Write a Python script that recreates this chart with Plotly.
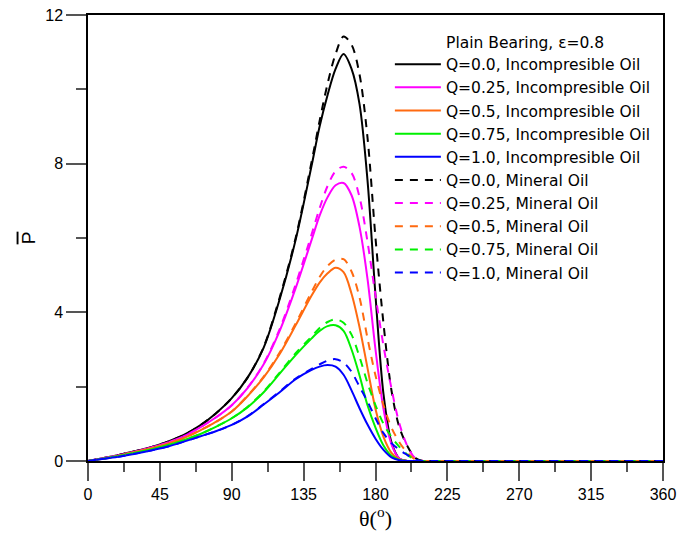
import plotly.graph_objects as go

# angle grid (degrees)
theta = [0, 10, 20, 30, 40, 50, 60, 70, 80, 90, 100, 110, 120, 130, 140, 145, 150,
         155, 160, 165, 170, 175, 180, 185, 190, 195, 200, 205, 210, 215, 220, 360]

# Incompressible oil (solid)
p_q00_inc = [0, 0.08, 0.17, 0.27, 0.38, 0.52, 0.70, 0.95, 1.28, 1.69, 2.25, 3.05, 4.35, 5.95, 7.95, 9.0, 9.85,
             10.55, 10.95, 10.55, 9.6, 7.55, 4.45, 1.8, 0.5, 0.06, 0, 0, 0, 0, 0, 0]
p_q25_inc = [0, 0.08, 0.16, 0.26, 0.37, 0.50, 0.67, 0.90, 1.17, 1.50, 1.97, 2.6, 3.5, 4.65, 5.95, 6.6, 7.1,
             7.42, 7.48, 7.15, 6.3, 4.9, 3.0, 1.4, 0.45, 0.07, 0, 0, 0, 0, 0, 0]
p_q50_inc = [0, 0.07, 0.15, 0.25, 0.35, 0.47, 0.62, 0.82, 1.05, 1.33, 1.75, 2.25, 2.88, 3.65, 4.45, 4.8, 5.05,
             5.2, 5.08, 4.5, 3.6, 2.5, 1.4, 0.65, 0.22, 0.04, 0, 0, 0, 0, 0, 0]
p_q75_inc = [0, 0.07, 0.14, 0.23, 0.32, 0.43, 0.56, 0.72, 0.92, 1.15, 1.45, 1.85, 2.35, 2.85, 3.3, 3.5, 3.63,
             3.65, 3.5, 3.0, 2.3, 1.5, 0.9, 0.42, 0.14, 0.03, 0, 0, 0, 0, 0, 0]
p_q100_inc = [0, 0.06, 0.12, 0.20, 0.29, 0.39, 0.52, 0.66, 0.80, 0.97, 1.2, 1.52, 1.85, 2.2, 2.45, 2.54, 2.58,
              2.54, 2.32, 1.9, 1.42, 0.98, 0.6, 0.3, 0.1, 0.02, 0, 0, 0, 0, 0, 0]

# Mineral oil (dashed)
p_q00_min = [0, 0.08, 0.17, 0.27, 0.38, 0.52, 0.70, 0.95, 1.28, 1.69, 2.25, 3.07, 4.4, 6.0, 8.05, 9.15, 10.15,
             10.95, 11.42, 11.2, 10.4, 8.7, 6.0, 3.7, 1.9, 0.9, 0.4, 0.08, 0, 0, 0, 0]
p_q25_min = [0, 0.08, 0.16, 0.26, 0.37, 0.50, 0.67, 0.90, 1.17, 1.50, 1.98, 2.62, 3.55, 4.75, 6.1, 6.8, 7.4,
             7.8, 7.92, 7.75, 7.1, 5.9, 4.45, 3.1, 1.95, 1.0, 0.4, 0.07, 0, 0, 0, 0]
p_q50_min = [0, 0.07, 0.15, 0.25, 0.35, 0.47, 0.62, 0.82, 1.05, 1.33, 1.76, 2.27, 2.92, 3.7, 4.55, 4.95, 5.25,
             5.42, 5.43, 5.1, 4.4, 3.3, 2.3, 1.5, 0.9, 0.5, 0.22, 0.04, 0, 0, 0, 0]
p_q75_min = [0, 0.07, 0.14, 0.23, 0.32, 0.43, 0.56, 0.72, 0.92, 1.15, 1.46, 1.87, 2.38, 2.9, 3.35, 3.58, 3.74,
             3.81, 3.72, 3.4, 2.8, 2.1, 1.5, 1.0, 0.65, 0.38, 0.17, 0.03, 0, 0, 0, 0]
p_q100_min = [0, 0.06, 0.12, 0.20, 0.29, 0.39, 0.52, 0.66, 0.80, 0.97, 1.21, 1.53, 1.87, 2.22, 2.48, 2.6, 2.7,
              2.74, 2.65, 2.4, 2.0, 1.6, 1.15, 0.75, 0.48, 0.3, 0.16, 0.03, 0, 0, 0, 0]

series_names = ["Q=0.0, Incompresible Oil", "Q=0.25, Incompresible Oil", "Q=0.5, Incompresible Oil",
                "Q=0.75, Incompresible Oil", "Q=1.0, Incompresible Oil",
                "Q=0.0, Mineral Oil", "Q=0.25, Mineral Oil", "Q=0.5, Mineral Oil",
                "Q=0.75, Mineral Oil", "Q=1.0, Mineral Oil"]
series_values = [p_q00_inc, p_q25_inc, p_q50_inc, p_q75_inc, p_q100_inc,
                 p_q00_min, p_q25_min, p_q50_min, p_q75_min, p_q100_min]
colors = ["#000000", "#ff00ff", "#ff6a10", "#00f000", "#0000ff"] * 2
dashes = ["solid"] * 5 + ["8px,7px"] * 5

x_ticks = [0, 45, 90, 135, 180, 225, 270, 315, 360]
y_ticks = [0, 4, 8, 12]

fig = go.Figure()
for name, vals, col, dsh in zip(series_names, series_values, colors, dashes):
    fig.add_trace(go.Scatter(x=theta, y=vals, mode="lines", name=name,
                             line=dict(color=col, width=2, dash=dsh, shape="spline", smoothing=0.9)))

tickcol = "#555555"
fig.update_layout(
    width=677, height=533,
    margin=dict(l=88, r=14, t=15, b=72, autoexpand=False),
    paper_bgcolor="white", plot_bgcolor="white",
    showlegend=True,
    legend=dict(
        x=0.525, y=0.972, xanchor="left", yanchor="top",
        bgcolor="rgba(0,0,0,0)", borderwidth=0,
        font=dict(family="DejaVu Sans", size=15.5, color="black"),
        itemwidth=46,
        title=dict(text="\u00a0" * 11 + "Plain Bearing, \u03b5=0.8",
                   font=dict(family="DejaVu Sans", size=15.5, color="black")),
    ),
    xaxis=dict(
        range=[0, 360], tickvals=x_ticks, ticktext=[str(v) for v in x_ticks],
        ticks="outside", ticklen=18, tickwidth=1.5, tickcolor=tickcol,
        showline=True, linecolor="black", linewidth=1.5, mirror=True,
        showgrid=False, zeroline=False, layer="below traces", automargin=False,
        tickfont=dict(family="Liberation Sans, Arial", size=16, color="black"),
        minor=dict(dtick=22.5, tick0=0, ticks="outside", ticklen=9, tickwidth=1.5, tickcolor=tickcol,
                   showgrid=False),
        title=dict(text="\u03b8(<sup>o</sup>)", font=dict(family="Liberation Serif, Times New Roman", size=22, color="black"),
                   standoff=6),
    ),
    yaxis=dict(
        range=[0, 12], tickvals=y_ticks, ticktext=[str(v) for v in y_ticks],
        ticks="outside", ticklen=20, tickwidth=1.5, tickcolor=tickcol,
        showline=True, linecolor="black", linewidth=1.5, mirror=True,
        showgrid=False, zeroline=False, layer="below traces", automargin=False,
        tickfont=dict(family="Liberation Sans, Arial", size=16, color="black"),
        minor=dict(dtick=2, tick0=0, ticks="outside", ticklen=10, tickwidth=1.5, tickcolor=tickcol,
                   showgrid=False),
        title=dict(text='<span style="text-decoration:overline">P</span>',
                   font=dict(family="Liberation Sans, Arial", size=19, color="black"), standoff=5),
    ),
)

fig.write_html("out.html")
